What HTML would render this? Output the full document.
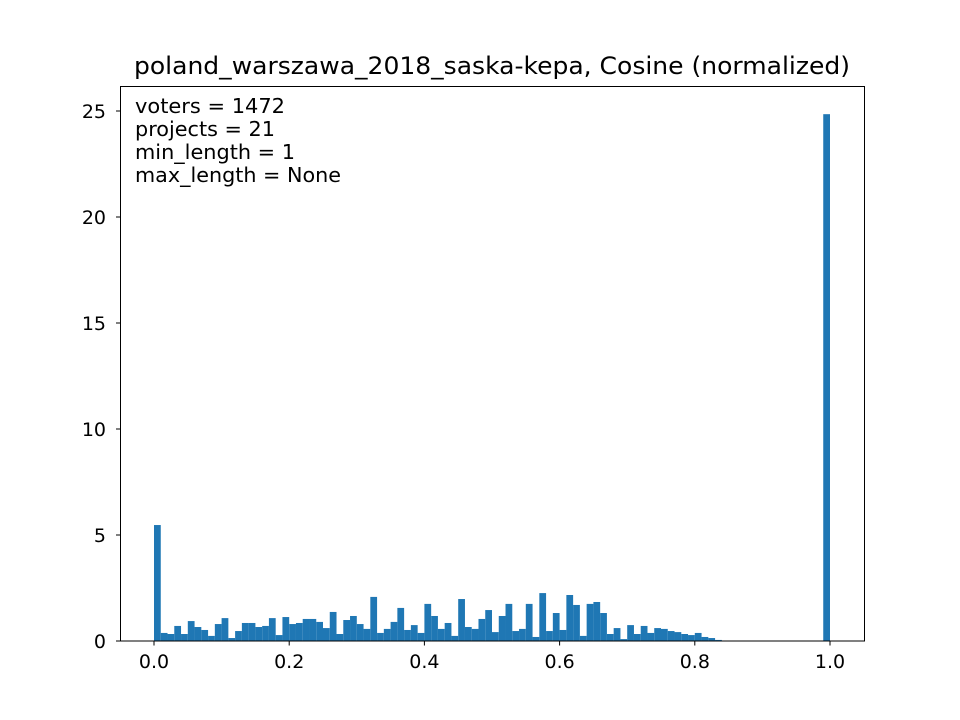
<!DOCTYPE html>
<html><head><meta charset="utf-8"><style>
body{margin:0;background:#fff}
svg{display:block;font-family:"DejaVu Sans","Liberation Sans",sans-serif}
</style></head><body>
<svg id="chart" width="960" height="720">
<rect width="960" height="720" fill="#fff"/>
<text x="492" y="74" font-size="24" text-anchor="middle" textLength="716" lengthAdjust="spacingAndGlyphs">poland_warszawa_2018_saska-kepa, Cosine (normalized)</text>
<g id="bars"></g>
<g id="xticks"></g>
<g id="yticks"></g>
<rect x="120.5" y="86.5" width="744" height="554.5" fill="none" stroke="#000" stroke-width="1"/>
<g font-size="20">
<text x="135" y="113" textLength="150" lengthAdjust="spacingAndGlyphs">voters = 1472</text>
<text x="135" y="136" textLength="140" lengthAdjust="spacingAndGlyphs">projects = 21</text>
<text x="135" y="159" textLength="160" lengthAdjust="spacingAndGlyphs">min_length = 1</text>
<text x="135" y="182" textLength="206" lengthAdjust="spacingAndGlyphs">max_length = None</text>
</g>
</svg>
<script>
const binValues = [5.47,0.38,0.33,0.71,0.33,0.94,0.66,0.52,0.24,0.80,
1.08,0.14,0.47,0.85,0.85,0.66,0.71,1.08,0.28,1.13,
0.80,0.85,1.04,1.04,0.90,0.61,1.37,0.33,0.99,1.18,
0.80,0.57,2.08,0.38,0.57,0.90,1.56,0.52,0.75,0.38,
1.75,1.18,0.57,0.85,0.24,1.98,0.66,0.57,1.04,1.46,
0.42,1.18,1.75,0.47,0.57,1.75,0.19,2.26,0.47,1.32,
0.52,2.17,1.70,0.24,1.75,1.84,1.32,0.33,0.61,0.09,
0.75,0.33,0.71,0.38,0.61,0.57,0.47,0.42,0.33,0.28,
0.38,0.19,0.14,0.05,0.02,0.01,0,0,0,0,
0,0,0,0,0,0,0,0,0,24.85];
const xTickValues = [0.0,0.2,0.4,0.6,0.8,1.0];
const xTickLabels = ["0.0","0.2","0.4","0.6","0.8","1.0"];
const yTickValues = [0,5,10,15,20,25];
const yTickLabels = ["0","5","10","15","20","25"];
const NS="http://www.w3.org/2000/svg";
const x = v => 154 + v*676;
const y = v => 641 - v*21.2;
const bars=document.getElementById('bars');
binValues.forEach((v,i)=>{
  if(v<=0) return;
  const r=document.createElementNS(NS,'rect');
  
  
  const x0=x(i/100), x1=x((i+1)/100);
  r.setAttribute('x',x0);r.setAttribute('width',x1-x0);
  r.setAttribute('y',y(v));r.setAttribute('height',641-y(v));
  r.setAttribute('fill','#1f77b4');
  bars.appendChild(r);
});
const xg=document.getElementById('xticks');
xTickValues.forEach((v,i)=>{
  const l=document.createElementNS(NS,'line');
  
  
  l.setAttribute('x1',x(v));l.setAttribute('x2',x(v));l.setAttribute('y1',641);l.setAttribute('y2',645.5);l.setAttribute('stroke','#000');
  xg.appendChild(l);
  const t=document.createElementNS(NS,'text');
  
  
  t.setAttribute('x',x(v));t.setAttribute('y',668);t.setAttribute('font-size','19');t.setAttribute('text-anchor','middle');
  t.textContent=xTickLabels[i];xg.appendChild(t);
});
const yg=document.getElementById('yticks');
yTickValues.forEach((v,i)=>{
  const l=document.createElementNS(NS,'line');
  
  
  l.setAttribute('x1',116);l.setAttribute('x2',120.5);l.setAttribute('y1',y(v));l.setAttribute('y2',y(v));l.setAttribute('stroke','#000');
  yg.appendChild(l);
  const t=document.createElementNS(NS,'text');
  
  
  t.setAttribute('x',106);t.setAttribute('y',y(v)+7);t.setAttribute('font-size','19');t.setAttribute('text-anchor','end');
  t.textContent=yTickLabels[i];yg.appendChild(t);
});
</script>
</body></html>
